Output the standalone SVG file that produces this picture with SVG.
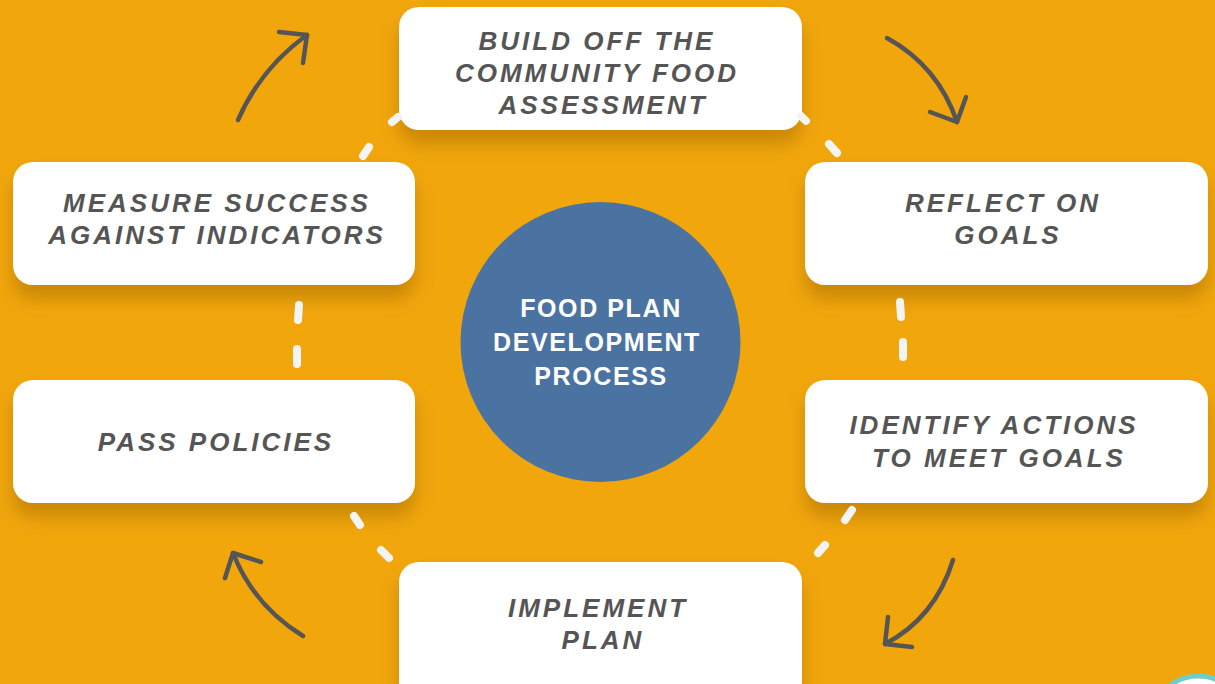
<svg xmlns="http://www.w3.org/2000/svg" width="1215" height="684" viewBox="0 0 1215 684">
<defs>
<filter id="sh" x="-10%" y="-20%" width="120%" height="160%">
<feDropShadow dx="0" dy="14" stdDeviation="9" flood-color="#9a6000" flood-opacity="0.45"/>
</filter>
<style>
.box{fill:#ffffff;filter:url(#sh);}
.lbl{font-family:"Liberation Sans",Arial,sans-serif;font-weight:bold;font-style:italic;font-size:26px;letter-spacing:3px;fill:#555555;text-anchor:middle;}
.ctr{font-family:"Liberation Sans",Arial,sans-serif;font-weight:bold;font-size:25px;letter-spacing:1.6px;fill:#ffffff;text-anchor:middle;}
.dash{stroke:#f4f4f4;stroke-width:8;stroke-linecap:round;fill:none;}
.arr{stroke:#555555;stroke-width:4.5;stroke-linecap:round;stroke-linejoin:round;fill:none;}
</style>
</defs>
<rect x="0" y="0" width="1215" height="684" fill="#F1A60C"/>

<g id="node-top">
<rect class="box" x="399" y="7" width="403" height="123" rx="20"/>
<text class="lbl" x="597" y="50">BUILD OFF THE</text>
<text class="lbl" x="597" y="82">COMMUNITY FOOD</text>
<text class="lbl" x="603" y="114">ASSESSMENT</text>
</g>
<g id="node-reflect">
<rect class="box" x="805" y="162" width="403" height="123" rx="20"/>
<text class="lbl" x="1003" y="212">REFLECT ON</text>
<text class="lbl" x="1008" y="244">GOALS</text>
</g>
<g id="node-identify">
<rect class="box" x="805" y="380" width="403" height="123" rx="20"/>
<text class="lbl" x="994" y="434">IDENTIFY ACTIONS</text>
<text class="lbl" x="999" y="467">TO MEET GOALS</text>
</g>
<g id="node-implement">
<rect class="box" x="399" y="562" width="403" height="140" rx="20"/>
<text class="lbl" x="598" y="617">IMPLEMENT</text>
<text class="lbl" x="603" y="649">PLAN</text>
</g>
<g id="node-pass">
<rect class="box" x="13" y="380" width="402" height="123" rx="20"/>
<text class="lbl" x="216" y="451">PASS POLICIES</text>
</g>
<g id="node-measure">
<rect class="box" x="13" y="162" width="402" height="123" rx="20"/>
<text class="lbl" x="217" y="212">MEASURE SUCCESS</text>
<text class="lbl" x="217" y="244">AGAINST INDICATORS</text>
</g>
<g id="node-center">
<circle cx="600.5" cy="342" r="140" fill="#4A73A1"/>
<text class="ctr" x="601" y="317">FOOD PLAN</text>
<text class="ctr" x="597" y="351">DEVELOPMENT</text>
<text class="ctr" x="601" y="385">PROCESS</text>
</g>

<g id="connectors">
<line class="dash" x1="392" y1="122" x2="398" y2="117"/>
<line class="dash" x1="369" y1="147" x2="363" y2="156"/>
<line class="dash" x1="801" y1="116" x2="806" y2="121"/>
<line class="dash" x1="829" y1="144" x2="837" y2="153"/>
<line class="dash" x1="299" y1="305" x2="298" y2="320"/>
<line class="dash" x1="297" y1="349" x2="297" y2="364"/>
<line class="dash" x1="900" y1="302" x2="901" y2="317"/>
<line class="dash" x1="903" y1="342" x2="903" y2="357"/>
<line class="dash" x1="852" y1="510" x2="845" y2="520"/>
<line class="dash" x1="825" y1="545" x2="818" y2="553"/>
<line class="dash" x1="354" y1="516" x2="360" y2="525"/>
<line class="dash" x1="381" y1="550" x2="389" y2="558"/>

<path class="arr" d="M238,120 Q261,68 307,35"/>
<polyline class="arr" points="279,32 307,35 303,63"/>
<path class="arr" d="M887,38 Q938,66 957,122"/>
<polyline class="arr" points="930,112 957,122 966,97"/>
<path class="arr" d="M953,560 Q935,618 885,644"/>
<polyline class="arr" points="888,617 885,644 912,647"/>
<path class="arr" d="M303,636 Q254,606 233,553"/>
<polyline class="arr" points="225,578 233,553 261,562"/>
</g>

<circle cx="1198" cy="722" r="46" fill="#ffffff" stroke="#6FCFC8" stroke-width="5"/>
</svg>
